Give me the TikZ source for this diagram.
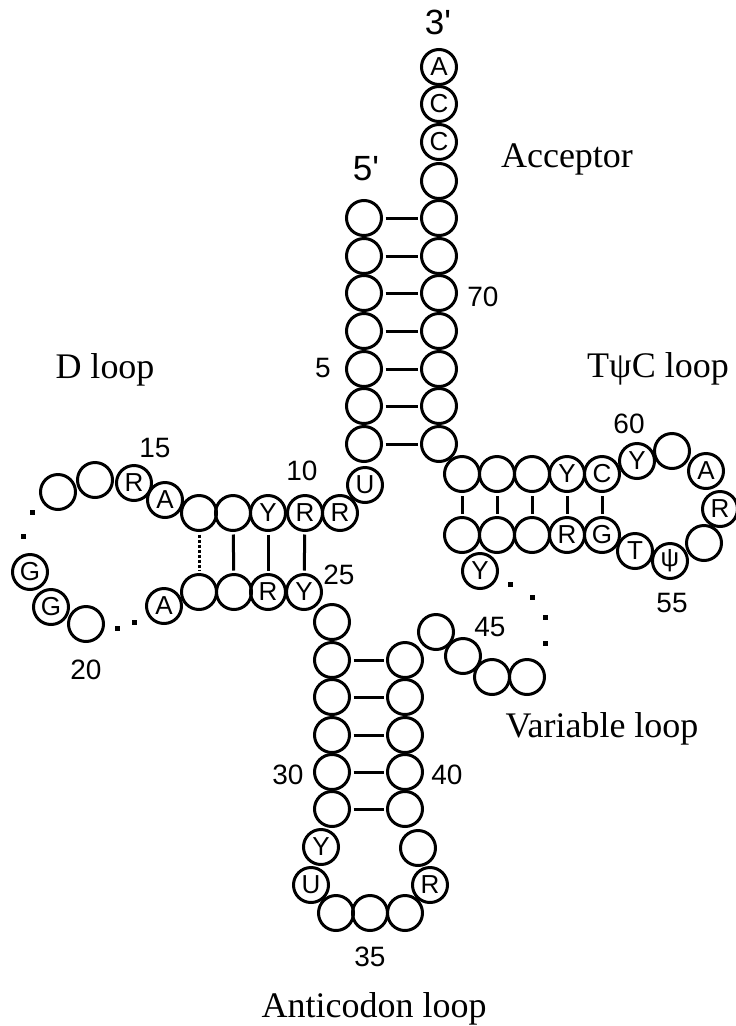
\documentclass[tikz,border=0pt]{standalone}
\usepackage{fontspec}
\setmainfont{Liberation Serif}
\setsansfont{Liberation Sans}

\begin{document}
\begin{tikzpicture}[x=1pt, y=-1pt, line cap=round,
	nuc/.style={draw, circle, line width=3pt, minimum size=35pt, inner sep=0pt, font=\sffamily\fontsize{26}{26}\selectfont},
	bond/.style={line width=3pt, line cap=butt, shorten >=2.5pt, shorten <=2.5pt},
	numlbl/.style={font=\sffamily\fontsize{28}{28}\selectfont},
	endlbl/.style={font=\sffamily\fontsize{35}{35}\selectfont},
	armlbl/.style={font=\fontsize{36}{36}\selectfont, anchor=base},
	ellip/.style={fill, minimum size=5pt, inner sep=0pt}]
	\useasboundingbox (0,0) rectangle (736,1026);
	% acceptor stem
	\foreach \i/\y in {1/218,2/256,3/293,4/331,5/369,6/406,7/444}
		\node[nuc] (n\i) at (364,\y) {};
	\foreach \i/\y in {72/218,71/256,70/293,69/331,68/369,67/406,66/444}
		\node[nuc] (n\i) at (439,\y) {};
	\node[nuc] (n73) at (439,181) {};
	\node[nuc] (n74) at (439,142) {C};
	\node[nuc] (n75) at (439,104) {C};
	\node[nuc] (n76) at (439,67) {A};
	% D arm
	\node[nuc] (n8) at (365,485) {U};
	\node[nuc] (n9) at (340,513) {R};
	\node[nuc] (n10) at (305,513) {R};
	\node[nuc] (n11) at (268,513) {Y};
	\node[nuc] (n12) at (233,513) {};
	\node[nuc] (n13) at (199,513) {};
	\node[nuc] (n14) at (165,500) {A};
	\node[nuc] (n15) at (134,483) {R};
	\node[nuc] (n16) at (95,480) {};
	\node[nuc] (n17) at (58,492) {};
	\node[nuc] (n18) at (30,572) {G};
	\node[nuc] (n19) at (51,607) {G};
	\node[nuc] (n20) at (86,624) {};
	\node[nuc] (n21) at (164,606) {A};
	\node[nuc] (n22) at (199,592) {};
	\node[nuc] (n23) at (234,592) {};
	\node[nuc] (n24) at (268,592) {R};
	\node[nuc] (n25) at (304,592) {Y};
	% anticodon arm
	\node[nuc] (n26) at (332,622) {};
	\foreach \i/\y in {27/660,28/697,29/735,30/772,31/809}
		\node[nuc] (n\i) at (332,\y) {};
	\node[nuc] (n32) at (321,847) {Y};
	\node[nuc] (n33) at (311,885) {U};
	\node[nuc] (n34) at (336,913) {};
	\node[nuc] (n35) at (370,913) {};
	\node[nuc] (n36) at (405,913) {};
	\node[nuc] (n37) at (430,885) {R};
	\node[nuc] (n38) at (418,848) {};
	\foreach \i/\y in {39/809,40/772,41/735,42/697,43/660}
		\node[nuc] (n\i) at (405,\y) {};
	% variable loop
	\node[nuc] (n44) at (436,632) {};
	\node[nuc] (n45) at (463,656) {};
	\node[nuc] (n46) at (492,677) {};
	\node[nuc] (n47) at (527,677) {};
	\node[nuc] (n48) at (480,571) {Y};
	% T psi C arm
	\foreach \i/\x in {49/462,50/497,51/532}
		\node[nuc] (n\i) at (\x,535) {};
	\node[nuc] (n52) at (567,535) {R};
	\node[nuc] (n53) at (602,535) {G};
	\node[nuc] (n54) at (635,551) {T};
	\node[nuc] (n55) at (670,561) {ψ};
	\node[nuc] (n56) at (704,543) {};
	\node[nuc] (n57) at (720,509) {R};
	\node[nuc] (n58) at (706,471) {A};
	\node[nuc] (n59) at (672,451) {};
	\node[nuc] (n60) at (637,461) {Y};
	\node[nuc] (n61) at (602,474) {C};
	\node[nuc] (n62) at (567,474) {Y};
	\foreach \i/\x in {63/532,64/497,65/462}
		\node[nuc] (n\i) at (\x,474) {};
	% base pairs
	\foreach \a/\b in {1/72,2/71,3/70,4/69,5/68,6/67,7/66,10/25,11/24,12/23,
		27/43,28/42,29/41,30/40,31/39,49/65,50/64,51/63,52/62,53/61}
		\draw[bond] (n\a) -- (n\b);
	\draw[bond, dash pattern=on 3pt off 2pt] (n13) -- (n22);
	% omitted bases
	\node[ellip] (e1) at (32,512) {};
	\node[ellip] (e2) at (23,536) {};
	\node[ellip] (e3) at (117,628) {};
	\node[ellip] (e4) at (134,622) {};
	\node[ellip] (e5) at (510,584) {};
	\node[ellip] (e6) at (532,597) {};
	\node[ellip] (e7) at (545,617) {};
	\node[ellip] (e8) at (545,643) {};
	% numbering
	\node[endlbl] (l3p) at (438,22) {3\textquotesingle};
	\node[endlbl] (l5p) at (366,169) {5\textquotesingle};
	\node[numlbl] (l70) at (483,297) {70};
	\node[numlbl] (l5) at (323,368) {5};
	\node[numlbl] (l15) at (155,448) {15};
	\node[numlbl] (l10) at (302,471) {10};
	\node[numlbl] (l25) at (339,575) {25};
	\node[numlbl] (l20) at (86,670) {20};
	\node[numlbl] (l45) at (490,627) {45};
	\node[numlbl] (l60) at (629,424) {60};
	\node[numlbl] (l55) at (672,603) {55};
	\node[numlbl] (l30) at (288,775) {30};
	\node[numlbl] (l40) at (447,775) {40};
	\node[numlbl] (l35) at (370,957) {35};
	% arm names
	\node[armlbl] (acc) at (567,167) {Acceptor};
	\node[armlbl] (dloop) at (105,378) {D loop};
	\node[armlbl] (tloop) at (658,377) {Tψ{}C loop};
	\node[armlbl] (vloop) at (602,737) {Variable loop};
	\node[armlbl] (aloop) at (374,1017) {Anticodon loop};
\end{tikzpicture}
\end{document}
